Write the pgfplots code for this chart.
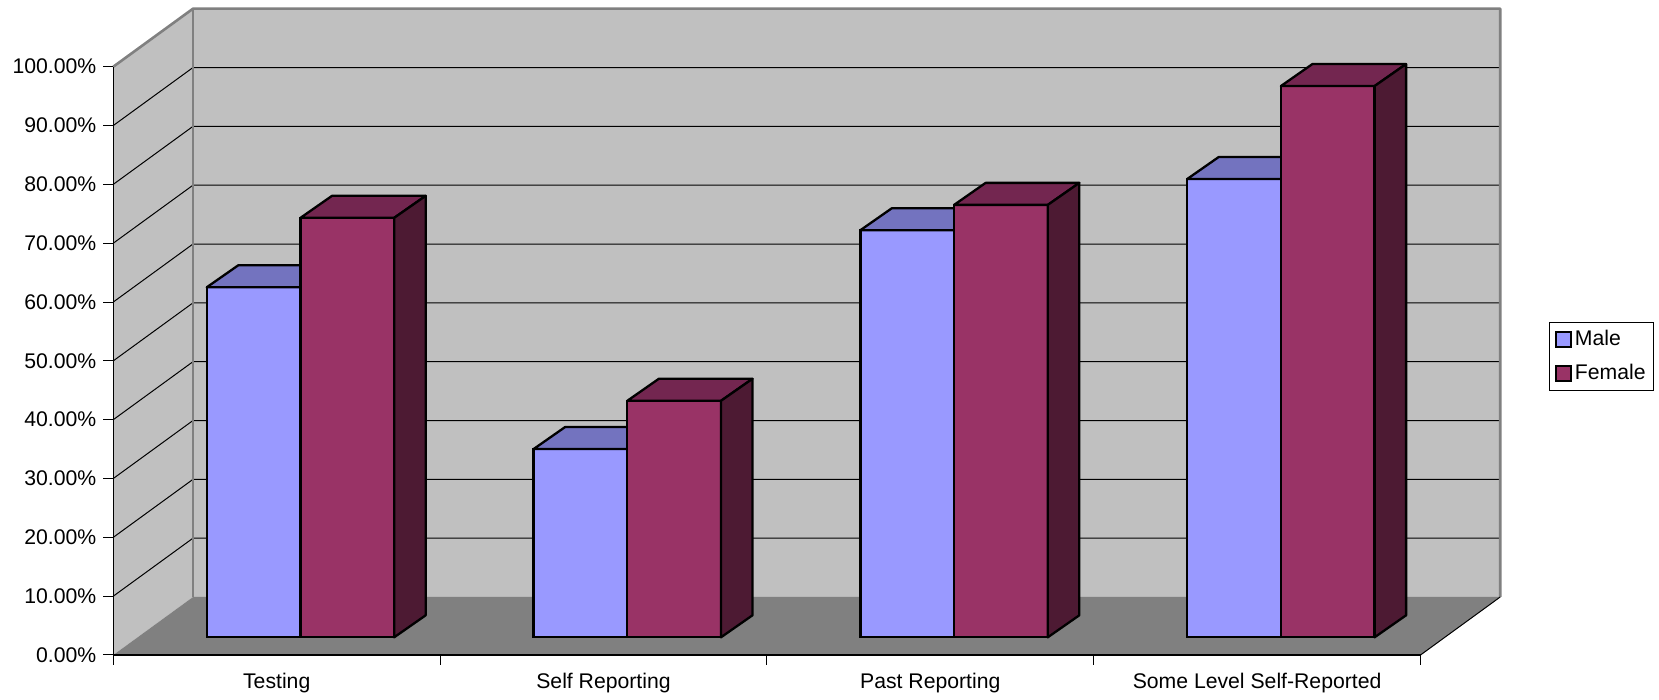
\documentclass[border=0pt]{standalone}
\usepackage{fontspec}
\setmainfont{Liberation Sans}
\usepackage{pgfplots}
\usepackage{pgfplotstable}
\pgfplotsset{compat=1.18}

\definecolor{wallgray}{HTML}{C0C0C0}
\definecolor{floorgray}{HTML}{808080}
\definecolor{maleface}{HTML}{9999FF}
\definecolor{maletop}{HTML}{7373BF}
\definecolor{femaleface}{HTML}{993366}
\definecolor{femaletop}{HTML}{732650}
\definecolor{femaleside}{HTML}{4D1A33}

% share of each group, in percent
\pgfplotstableread{
idx male female
0 59.5 71.3
1 32.0 40.2
2 69.2 73.5
3 77.9 93.7
}\rates

% depth of the chart box, in front-plane axis units
\def\Dx{0.2439}
\def\Dy{9.859}
% width and depth of one bar
\def\bw{0.2867}
\def\bx{0.0964}
\def\by{3.74}

\pgfplotsset{
  frame/.style={
    scale only axis, width=653.6pt, height=294.15pt,
    xmin=-0.5, xmax=3.5, ymin=0, ymax=100, clip=false,
  },
}

\begin{document}
\begin{tikzpicture}[font=\fontsize{10.6}{12.7}\selectfont]
\useasboundingbox (0,0) rectangle (829.5pt,350pt);

% walls, floor, grid and axes
\begin{axis}[
  frame,
  at={(56.65pt,22.5pt)}, anchor=south west,
  axis on top,
  axis lines=left,
  axis line style={-, black, line width=0.6pt},
  tick align=outside,
  tick style={black, line width=0.5pt},
  major tick length=5pt,
  ytick={0,10,...,100},
  yticklabels={0.00\%,10.00\%,20.00\%,30.00\%,40.00\%,50.00\%,60.00\%,70.00\%,80.00\%,90.00\%,100.00\%},
  xtick={-0.5,0.5,1.5,2.5,3.5},
  xticklabels={,,,,},
  extra x ticks={0,1,2,3},
  extra x tick labels={Testing,Self Reporting,Past Reporting,Some Level Self-Reported},
  extra x tick style={major tick length=0pt, xticklabel style={yshift=-5.5pt}},
]
% side wall, back wall and floor
\fill[wallgray] (axis cs:-0.5,0) -- (axis cs:-0.5,100) -- (axis cs:-0.2561,109.859) -- (axis cs:-0.2561,9.859) -- cycle;
\fill[wallgray] (axis cs:-0.2561,9.859) rectangle (axis cs:3.7439,109.859);
\fill[floorgray] (axis cs:-0.5,0) -- (axis cs:3.5,0) -- (axis cs:3.7439,9.859) -- (axis cs:-0.2561,9.859) -- cycle;
% grid lines running along the side wall and across the back wall
\pgfplotsinvokeforeach{10,20,30,40,50,60,70,80,90}{
  \pgfmathsetmacro\yb{#1+\Dy}
  \edef\gl{\noexpand\draw[black, line width=0.5pt] (axis cs:-0.5,#1) -- (axis cs:-0.2561,\yb) -- (axis cs:3.7439,\yb);}
  \gl
}
% wall edges
\draw[floorgray, line width=1.3pt, line join=round] (axis cs:-0.5,100) -- (axis cs:-0.2561,109.859) -- (axis cs:3.7439,109.859) -- (axis cs:3.7439,9.859);
\draw[floorgray, line width=1.3pt] (axis cs:-0.2561,109.859) -- (axis cs:-0.2561,9.859);
\draw[black, line width=0.5pt] (axis cs:3.5,0) -- (axis cs:3.7439,9.859);
\end{axis}

% the bars, standing a little behind the front plane
\begin{axis}[
  frame,
  at={(68.55pt,31.35pt)}, anchor=south west,
  hide axis,
  ybar, bar width=\bw,
  legend cell align=left,
  legend style={
    at={(1.0803,0.5365)}, anchor=north west,
    draw=black, line width=0.5pt, fill=white,
    inner xsep=2.5pt, inner ysep=2.6pt, row sep=4.6pt,
    nodes={inner sep=1.5pt},
    font=\fontsize{10.6}{12.7}\selectfont,
  },
  legend image code/.code={\draw[#1, line width=1.1pt] (0pt,-3.75pt) rectangle (7.5pt,3.75pt);},
]
\addplot[draw=black, line width=1.15pt, fill=maleface, bar shift=-0.14335] table[x=idx, y=male] {\rates};
\addlegendentry{Male}
\pgfplotsinvokeforeach{0,1,2,3}{
  \pgfplotstablegetelem{#1}{male}\of\rates
  \pgfmathsetmacro\vt{\pgfplotsretval}
  \pgfmathsetmacro\vb{\pgfplotsretval+\by}
  \pgfmathsetmacro\xl{#1-\bw}
  \pgfmathsetmacro\xlb{#1-\bw+\bx}
  \pgfmathsetmacro\xrb{#1+\bx}
  \edef\face{\noexpand\filldraw[fill=maletop, draw=black, line width=1.15pt, line join=round]
    (axis cs:\xl,\vt) -- (axis cs:#1,\vt) -- (axis cs:\xrb,\vb) -- (axis cs:\xlb,\vb) -- cycle;}
  \face
}
\addplot[draw=black, line width=1.15pt, fill=femaleface, bar shift=0.14335] table[x=idx, y=female] {\rates};
\addlegendentry{Female}
\pgfplotsinvokeforeach{0,1,2,3}{
  \pgfplotstablegetelem{#1}{female}\of\rates
  \pgfmathsetmacro\vt{\pgfplotsretval}
  \pgfmathsetmacro\vb{\pgfplotsretval+\by}
  \pgfmathsetmacro\xr{#1+\bw}
  \pgfmathsetmacro\xlb{#1+\bx}
  \pgfmathsetmacro\xrb{#1+\bw+\bx}
  \edef\face{\noexpand\filldraw[fill=femaletop, draw=black, line width=1.15pt, line join=round]
    (axis cs:#1,\vt) -- (axis cs:\xr,\vt) -- (axis cs:\xrb,\vb) -- (axis cs:\xlb,\vb) -- cycle;
    \noexpand\filldraw[fill=femaleside, draw=black, line width=1.15pt, line join=round]
    (axis cs:\xr,0) -- (axis cs:\xr,\vt) -- (axis cs:\xrb,\vb) -- (axis cs:\xrb,\by) -- cycle;}
  \face
}
\end{axis}
\end{tikzpicture}
\end{document}
